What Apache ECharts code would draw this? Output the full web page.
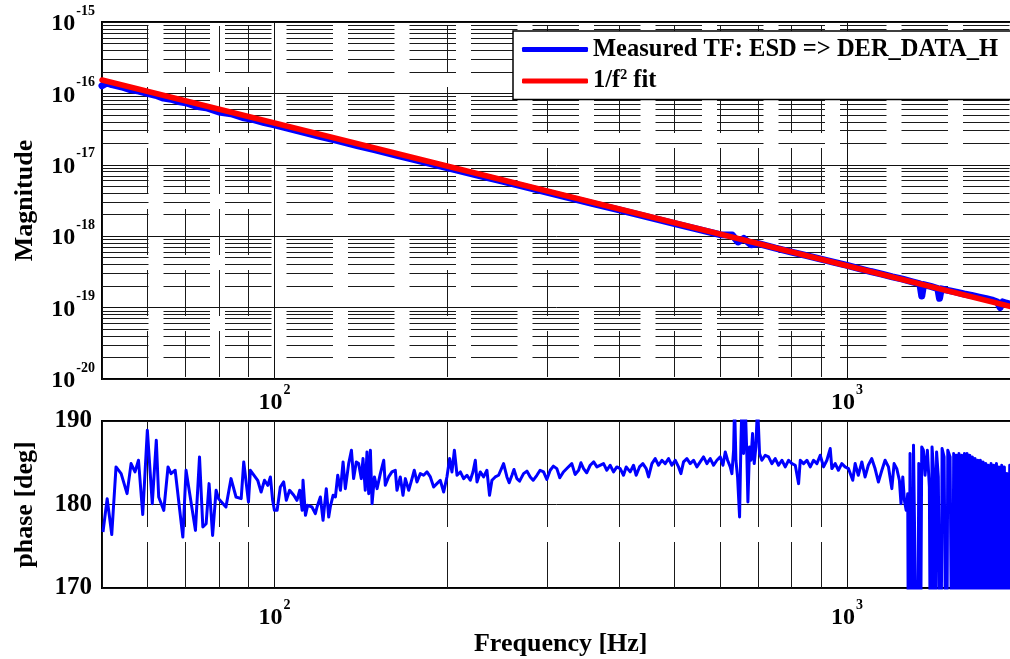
<!DOCTYPE html>
<html><head><meta charset="utf-8">
<script src="https://cdn.jsdelivr.net/npm/echarts@6/dist/echarts.min.js"></script>
<style>html,body{margin:0;padding:0;background:#fff}#c{width:1010px;height:659px}</style>
</head><body><div id="c"></div>
<script>
// ---------- data ----------
const NAME_MEAS = 'Measured TF: ESD => DER_DATA_H';
const NAME_FIT = '1/f^2 fit';
const freqRange = [50, 2000];
const magRange = [1e-20, 1e-15];
const phaseRange = [170, 190];
const phaseTicks = [170, 180, 190];
const minorFreqTicks = [60, 70, 80, 90, 200, 300, 400, 500, 600, 700, 800, 900];
const minorMagMult = [2, 3, 4, 5, 6, 7, 8, 9];
const magDecades = [-20, -19, -18, -17, -16];

const fitFreq = [50, 2000];
const fitMag = [1.54e-16, 9.63e-20];

const magFreq = [
  50,51,52,54,56,58,60,62,64,66,
  68,70,73,76,80,84,88,92,96,100,
  110,120,130,140,150,165,180,200,225,250,
  280,320,360,400,450,500,550,600,630,645,
  660,680,700,750,800,850,900,950,1000,1050,
  1100,1150,1200,1250,1300,1340,1350,1360,1400,1440,
  1450,1460,1500,1550,1600,1650,1700,1750,1800,1830,
  1850,1870,1900,1950,2000];
const magVal = [
  1.28e-16,1.40e-16,1.33e-16,1.24e-16,1.13e-16,1.08e-16,1.00e-16,9.4e-17,8.6e-17,8.3e-17,
  7.7e-17,7.4e-17,6.6e-17,6.3e-17,5.5e-17,5.2e-17,4.6e-17,4.3e-17,3.9e-17,3.62e-17,
  3.0e-17,2.5e-17,2.15e-17,1.84e-17,1.62e-17,1.33e-17,1.13e-17,9.1e-18,7.25e-18,5.9e-18,
  4.7e-18,3.62e-18,2.86e-18,2.33e-18,1.85e-18,1.50e-18,1.25e-18,1.05e-18,1.04e-18,8.3e-19,
  9.3e-19,7.6e-19,7.9e-19,6.8e-19,6.0e-19,5.35e-19,4.78e-19,4.3e-19,3.9e-19,3.52e-19,
  3.2e-19,2.95e-19,2.7e-19,2.5e-19,2.3e-19,2.15e-19,1.45e-19,2.1e-19,1.98e-19,1.85e-19,
  1.35e-19,1.83e-19,1.74e-19,1.65e-19,1.55e-19,1.48e-19,1.4e-19,1.33e-19,1.26e-19,1.2e-19,
  1.0e-19,1.2e-19,1.15e-19,1.1e-19,1.05e-19];

// phase, segment by segment
const phaseFreqA = [50.2,51.05,52.0,52.9,54.0,55.3,56.2,57.1,57.9,58.9,
  60.0,61.2,62.2,62.8,64.1,65.2,66.0,67.1,69.2,70.1,
  72.8,74.0,75.0,76.0,76.9,78.0,79.1,79.9,82.3,84.0,
  85.7,87.5,88.4,90.1,90.8,93.5,94.8,96.1,97.4,98.4,
  99.3,100];
const phaseDegA = [176.7,180.7,176.4,184.5,183.7,181.3,184.9,183.9,185.3,178.8,
  188.9,180.1,187.7,180.9,179.3,184.5,183.7,184.1,176.1,184.1,
  176.9,185.7,177.3,177.7,182.5,176.3,181.7,180.7,179.7,183.1,
  180.9,180.7,185.1,180.3,184.1,182.9,181.5,182.9,182.3,183.3,
  180.5,179.3];
const phaseFreqB = [101.1,102.4,103.8,104.9,106.3,108.1,109.5,110.7,111.8,112.2,
  113.3,114.3,116.3,117.9,118.7,120.3,121.6,123.2,124.4,125.2,
  126.6,127.8,129.0,130.4,131.8,133.0,134.8,136.3,137.5,139.0,
  140.3,141.8,142.8,144.1,145.1,146.1,147.1,148.1,149.5,151.1,
  153.1,155.2,156.2,158.3,160.4,162.6,163.7,165.9,167.7,169.3,
  171.6,173.9,175.5,177.4,179.8,182.2,184.7,187.2,189.7,192.2,
  194.8,197.5,200.1,202.3,204.2,206.2,208.4,211.2,214.0,216.9,
  219.8,222.2,224.3,225.8,228.8,231.9,235.0,237.5,239.8,243.0,
  246.3,251.3,254.7,257,259.9,262,265.1,268,272.3,276,
  279.7,283,287.3,291,295.1,299,303.1,307,311.3,315,
  319.6,325,330.6,335,339.8,343,346.6,351,356.0,361,
  365.7];
const phaseDegB = [179.3,182.1,182.7,180.5,181.7,181.1,180.5,181.7,179.3,182.9,
  178.7,179.9,179.7,178.9,179.7,180.9,178.1,181.9,178.5,179.7,
  181.1,180.9,183.5,181.7,185.1,181.9,184.9,186.5,183.1,185.1,
  184.9,183.1,185.5,181.7,186.3,181.3,186.5,180.1,183.3,181.9,
  183.7,185.3,182.3,183.3,183.9,184.1,181.7,183.3,181.1,183.1,
  181.7,183.1,184.1,182.7,183.7,183.5,183.9,183.3,182.1,182.5,
  182.9,181.5,183.3,185.5,183.9,186.5,183.5,183.9,183.1,183.5,
  182.9,183.9,185.3,182.7,183.9,183.3,184.1,181.1,182.9,183.3,
  183.5,184.9,183.3,182.6,183.5,184.2,183.1,182.8,183.7,184.0,
  183.3,182.9,183.5,184.1,183.9,183.0,184.1,184.6,184.3,183.2,
  183.9,184.4,184.9,183.6,184.1,185.0,184.3,183.8,184.7,185.1,
  184.5];
const phaseFreqC = [375.6,380.6,385.7,391.0,396.2,401.6,407.0,411.4,418.1,423.7,
  428.3,434.0,439.9,445.9,450.1,456.2,462.3,468.6,474.9,481.3,
  487.8,494.4,501.0,507.8,512.6,518.1,525.1,532.2,539.4,546.6,
  554.0,561.5,569.1,576.8,584.6,592.5,600.5,607.0,612.7,618.5,
  625.1,629.3,633.6,636.1,639.5,643.8,649.0,652.5,655.1,659.5,
  664.0,668.4,671.1,675.6,679.3,683.8,688.4,693.0,697.7,703.3,
  709.9,719.5,729.2,739.0,749.0,759.2,769.4,779.8,790.4,801.0,
  811.9,822.8,828.4,839.5,850.8,862.3,873.9,885.7,897.6,909.7,
  921.9,934.4,940.6,953.3,965.7,978.8,992.0,1005.4];
const phaseDegC = [184.9,184.1,184.7,183.9,184.5,184.3,183.5,184.5,183.9,184.7,
  183.5,184.5,184.9,184.3,183.3,184.9,185.5,184.7,185.3,184.9,
  185.5,184.7,185.3,184.5,183.7,185.1,185.5,184.9,185.3,184.5,
  185.1,185.7,184.9,185.5,184.7,185.3,185.7,184.7,186.3,185.3,
  184.5,183.7,186.5,192,185.3,183.3,178.5,187.3,192,186.1,
  192,185.7,180.3,186.9,185.3,188.5,184.9,186.9,192,186.1,
  185.3,185.9,185.7,184.9,185.5,184.7,185.3,184.5,185.3,184.9,
  184.7,182.5,185.3,184.9,185.3,184.5,185.3,184.9,185.9,184.5,
  185.3,186.7,184.3,184.9,184.1,184.9,184.5,184.3];
const phaseFreqD = [1012,1023,1033,1046,1061,1075,1089,1104,1119,1134,
  1150,1165,1181,1197,1208,1221,1234,1242,1251,1259,
  1268,1276,1281,1288,1297,1306,1316,1327,1334,1341,
  1350,1359,1368,1381,1392,1400,1407,1416,1426,1433,
  1443,1457,1465,1477,1491,1499,1513,1527,1535,1545];
const phaseDegD = [184.3,182.9,184.9,183.5,185.1,183.3,184.7,185.5,184.3,182.7,
  184.1,185.3,184.5,181.9,184.9,184.3,182.9,180.1,183.3,180.5,
  179.3,181.3,150,186.1,150,187.1,186.9,150,184.9,150,
  186.9,186.5,183.5,186.5,182.1,150,186.9,184.1,150,186.3,
  183.3,150,186.7,185.7,150,186.5,185.7,150,186.1,150];
const phaseFreqE = [1551,1560,1568,1577,1586,1594,1603,1612,1620,1629,
  1638,1647,1655,1665,1673,1682,1692,1701,1709,1719,
  1728,1737,1747,1756,1765,1775,1784,1794,1804,1813,
  1823,1832,1842,1851,1862,1872,1882,1892,1902,1912,
  1923,1933,1949,1964,1996];
const phaseDegE = [185.9,165,186.1,165,185.9,165,186.1,165,186.1,165,
  185.9,165,185.7,165,185.5,165,185.3,165,185.3,165,
  185.1,165,184.9,165,184.7,165,184.9,165,184.7,165,
  184.9,165,184.5,165,184.7,165,184.5,165,183.7,165,
  184.7,165,184.5,165,184.0];

// ---------- build ----------
const phaseFreq = [].concat(phaseFreqA, phaseFreqB, phaseFreqC, phaseFreqD, phaseFreqE);
const phaseDeg = [].concat(phaseDegA, phaseDegB, phaseDegC, phaseDegD, phaseDegE);
const zip = (a, b) => a.map((v, i) => [v, b[i]]);
const minorMagTicks = [];
magDecades.forEach(d => minorMagMult.forEach(m => minorMagTicks.push(m * Math.pow(10, d))));

const FONT = "'Liberation Serif','Times New Roman',serif";
const BLUE = '#0000ff', RED = '#ff0000';

function powFmt(v) {
  const l = Math.log10(v), e = Math.round(l);
  if (Math.abs(l - e) > 1e-6) return '';
  return '{b|10}{s|' + e + '}';
}
function richPow() {
  return {
    b: {fontFamily: FONT, fontWeight: 'bold', fontSize: 24, color: '#000', padding: [8, 0, 0, 0], verticalAlign: 'bottom'},
    s: {fontFamily: FONT, fontWeight: 'bold', fontSize: 14, color: '#000', verticalAlign: 'top', padding: [0, 0, 0, 1]}
  };
}
const majorSplit = {show: true, lineStyle: {color: '#111', width: 1, type: 'solid'}};
const nameStyle = {fontFamily: FONT, fontWeight: 'bold', fontSize: 26, color: '#000'};
const gridLine = (t) => ({color: '#1a1a1a', width: 1, type: t.type, dashOffset: t.off});

const chart = echarts.init(document.getElementById('c'), null, {renderer: 'canvas'});
chart.setOption({
  animation: false,
  backgroundColor: '#fff',
  grid: [
    {left: 102, right: -9.5, top: 22, height: 357, show: true, borderColor: '#000', borderWidth: 2, backgroundColor: 'transparent', outerBoundsMode: 'none', containLabel: false},
    {left: 102, right: -9.5, top: 421, height: 167, show: true, borderColor: '#000', borderWidth: 2, backgroundColor: 'transparent', outerBoundsMode: 'none', containLabel: false}
  ],
  xAxis: [
    {type: 'log', logBase: 10, gridIndex: 0, min: freqRange[0], max: freqRange[1],
     axisLine: {show: false}, axisTick: {show: false}, splitLine: majorSplit,
     axisLabel: {formatter: powFmt, margin: 4, rich: richPow(), hideOverlap: false}},
    {type: 'log', logBase: 10, gridIndex: 1, min: freqRange[0], max: freqRange[1],
     axisLine: {show: false}, axisTick: {show: false}, splitLine: majorSplit,
     axisLabel: {formatter: powFmt, margin: 10, rich: richPow(), hideOverlap: false},
     name: 'Frequency [Hz]', nameLocation: 'middle', nameGap: 43, nameTextStyle: nameStyle}
  ],
  yAxis: [
    {type: 'log', logBase: 10, gridIndex: 0, min: magRange[0], max: magRange[1],
     axisLine: {show: false}, axisTick: {show: false}, splitLine: majorSplit,
     axisLabel: {formatter: powFmt, margin: 7, rich: richPow(), padding: [0, 0, 4, 0], hideOverlap: false},
     name: 'Magnitude', nameLocation: 'middle', nameGap: 64, nameRotate: 90, nameTextStyle: nameStyle},
    {type: 'value', gridIndex: 1, min: phaseRange[0], max: phaseRange[1], interval: 10,
     axisLine: {show: false}, axisTick: {show: false}, splitLine: majorSplit,
     axisLabel: {margin: 10, fontFamily: FONT, fontWeight: 'bold', fontSize: 25, color: '#000'},
     name: 'phase [deg]', nameLocation: 'middle', nameGap: 64, nameRotate: 90, nameTextStyle: nameStyle}
  ],
  legend: {
    data: [NAME_MEAS, NAME_FIT], z: 20,
    orient: 'vertical', left: 513, top: 31,
    backgroundColor: '#fff', borderColor: '#000', borderWidth: 1.5, borderRadius: 0,
    padding: [6, 40, 6, 9], itemWidth: 66, itemHeight: 5, itemGap: 6,
    icon: 'roundRect', selectedMode: false,
    formatter: n => n === NAME_FIT ? '{t|1/f}{s|2}{t| fit}' : '{t|' + n + '}',
    textStyle: {color: '#000', rich: {
      t: {fontFamily: FONT, fontWeight: 'bold', fontSize: 24.5, color: '#000', lineHeight: 26},
      s: {fontFamily: FONT, fontWeight: 'bold', fontSize: 14, color: '#000', verticalAlign: 'top'}
    }}
  },
  series: [
    {name: 'gridTop', type: 'line', xAxisIndex: 0, yAxisIndex: 0, z: 1, silent: true,
     data: [[freqRange[0], magRange[0]]], showSymbol: false, symbol: 'none', lineStyle: {opacity: 0},
     markLine: {z: 1, silent: true, precision: 20, symbol: ['none', 'none'], label: {show: false}, animation: false,
       emphasis: {disabled: true},
       data: minorMagTicks.map(v => ({yAxis: v, lineStyle: gridLine({type: [46.5, 15], off: 0})}))
         .concat(minorFreqTicks.map(v => ({xAxis: v, lineStyle: gridLine({type: [46, 15], off: 59})})))}},
    {name: 'gridBottom', type: 'line', xAxisIndex: 1, yAxisIndex: 1, z: 1, silent: true,
     data: [[freqRange[0], phaseRange[0]]], showSymbol: false, symbol: 'none', lineStyle: {opacity: 0},
     markLine: {z: 1, silent: true, precision: 20, symbol: ['none', 'none'], label: {show: false}, animation: false,
       emphasis: {disabled: true},
       data: minorFreqTicks.map(v => ({xAxis: v, lineStyle: gridLine({type: [46, 15, 106, 15], off: 0})}))}},
    {name: NAME_MEAS, type: 'line', xAxisIndex: 0, yAxisIndex: 0, z: 3,
     data: zip(magFreq, magVal), showSymbol: false, symbol: 'none', color: BLUE,
     itemStyle: {color: BLUE}, lineStyle: {color: BLUE, width: 7, cap: 'round', join: 'round'}},
    {name: NAME_FIT, type: 'line', xAxisIndex: 0, yAxisIndex: 0, z: 4,
     data: zip(fitFreq, fitMag), showSymbol: false, symbol: 'none', color: RED,
     itemStyle: {color: RED}, lineStyle: {color: RED, width: 5.5, cap: 'round'}},
    {name: 'phase', type: 'line', xAxisIndex: 1, yAxisIndex: 1, z: 3,
     data: zip(phaseFreq, phaseDeg), showSymbol: false, symbol: 'none', color: BLUE,
     itemStyle: {color: BLUE}, lineStyle: {color: BLUE, width: 3, join: 'round'}, clip: true}
  ]
});
</script></body></html>
